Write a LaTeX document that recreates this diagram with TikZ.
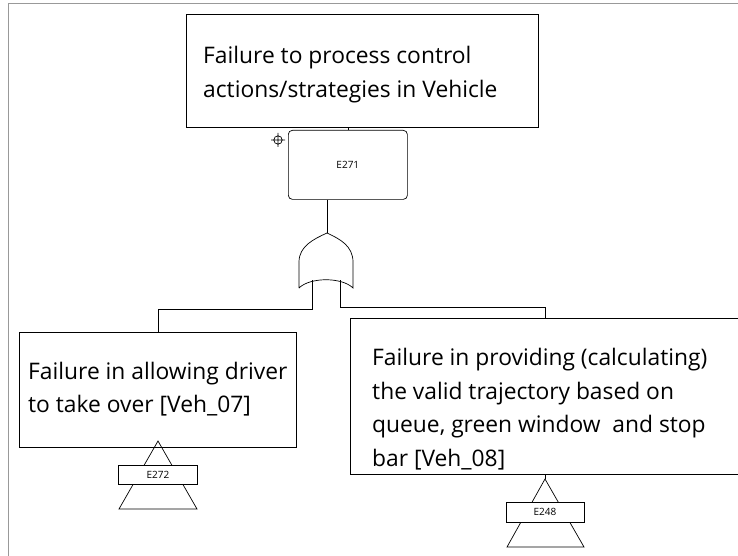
\documentclass[tikz,border=0pt]{standalone}
\usepackage{fontspec}
\setmainfont{Open Sans}
\usetikzlibrary{calc}
\begin{document}
\begin{tikzpicture}[x=1pt,y=-1pt,line join=miter,
  frame/.style={draw=black!40,line width=0.8pt},
  ev/.style={draw=black,line width=0.8pt,rectangle,inner sep=0pt,anchor=north west},
  evtext/.style={align=left,inner sep=0pt,anchor=west,font=\fontsize{22.8}{33}\selectfont},
  idbox/.style={draw=black,line width=0.7pt,rounded corners=4pt,inner sep=0pt,anchor=north west,font=\fontsize{10}{11}\selectfont},
  tag/.style={draw=black,line width=0.7pt,fill=white,inner sep=0pt,font=\fontsize{10}{11}\selectfont},
  wire/.style={draw=black,line width=0.7pt}]
\useasboundingbox (0,0) rectangle (738,556);
\clip (0,0) rectangle (738,556);
% outer frame
\draw[frame] (8,556) -- (8,3) -- (740,3);
% top event
\node[ev,minimum width=352pt,minimum height=113pt] (top) at (186,14) {};
\node[evtext,font=\fontsize{22.8}{34}\selectfont] (toptxt) at (203,75) {Failure to process control\\actions/strategies in Vehicle};
\node[idbox,minimum width=119pt,minimum height=69pt] (e271) at (288,130) {E271};
% crosshair
\coordinate (ch) at (278,140);
\draw[line width=0.7pt] (ch) circle (4.2pt) ($(ch)+(-7,0)$) -- ($(ch)+(7,0)$) ($(ch)+(0,-7)$) -- ($(ch)+(0,7)$);
\draw[wire] (e271.north) -- (e271.north |- top.south);
% OR gate
\coordinate (gtop) at (327,233);
\coordinate (gin1) at (312,280);
\coordinate (gin2) at (340,280);
\draw[wire] (299,288) -- (299,262) .. controls (299,246) and (314,239) .. (gtop)
  .. controls (340,239) and (353,246) .. (353,262) -- (353,288)
  .. controls (342,277) and (310,277) .. (299,288);
\draw[wire] (e271.south -| gtop) -- (gtop);
% left event
\node[ev,minimum width=277pt,minimum height=115pt] (left) at (19,332) {};
\node[evtext] (lefttxt) at (28,389) {Failure in allowing driver\\to take over [Veh\_07]};
% right event
\node[ev,minimum width=400pt,minimum height=156pt] (right) at (350,318) {};
\node[evtext,font=\fontsize{22.8}{33.5}\selectfont] (righttxt) at (372,409) {Failure in providing (calculating)\\the valid trajectory based on\\queue, green window\ \ and stop\\bar [Veh\_08]};
\coordinate (lj) at (158,309);
\coordinate (rj) at (545,307);
\draw[wire] (gin1) |- (lj) -- (left.north -| lj);
\draw[wire] (gin2) |- (rj) -- (right.north -| rj);
% transfer triangles
\coordinate (lt) at (158,441);
\draw[wire] (lt) -- (197,509) -- (119,509) -- cycle;
\node[tag,minimum width=79pt,minimum height=19pt] (e272) at (158,474.5) {E272};
\coordinate (rt) at (545,479);
\draw[wire] (rt) -- (584,547) -- (507,547) -- cycle;
\node[tag,minimum width=78pt,minimum height=20pt] (e248) at (545,512) {E248};
\draw[wire] (right.south -| rt) -- (rt);
\end{tikzpicture}
\end{document}
